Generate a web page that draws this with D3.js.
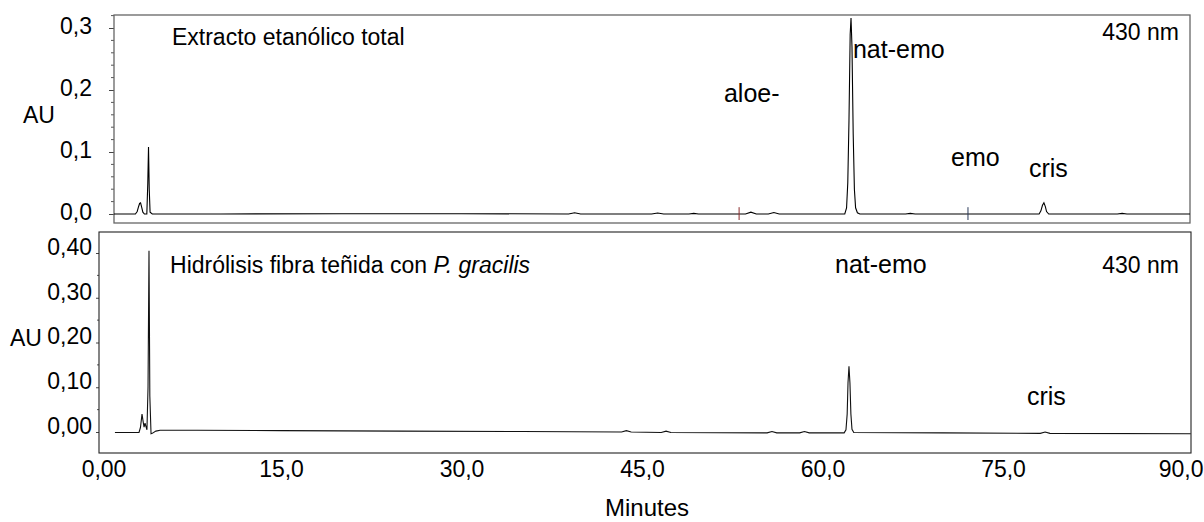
<!DOCTYPE html>
<html><head><meta charset="utf-8">
<script src="https://cdn.jsdelivr.net/npm/d3@7"></script>
<style>
body{margin:0;background:#fff}
text{font-family:"Liberation Sans",Arial,sans-serif;fill:#000}
</style></head>
<body><svg id="c" width="1204" height="522"></svg>
<script>
// ---------- data ----------
const xTickValues = [0, 15, 30, 45, 60, 75, 90];
const xTickLabels = ["0,00", "15,0", "30,0", "45,0", "60,0", "75,0", "90,0"];
const topYTicks = [0, 0.1, 0.2, 0.3];
const topYLabels = ["0,0", "0,1", "0,2", "0,3"];
const botYTicks = [0, 0.1, 0.2, 0.3, 0.4];
const botYLabels = ["0,00", "0,10", "0,20", "0,30", "0,40"];

const topTime = [1.12, 2.9, 3.05, 3.15, 3.25, 3.33, 3.42, 3.52, 3.65, 3.85, 3.93, 3.99, 4.05, 4.12, 4.3, 10, 20, 30, 38.9, 39.4, 39.9, 45.8, 46.3, 46.8, 48.9, 49.3, 49.7, 53.6, 54.05, 54.5, 55.5, 55.96, 56.4, 61.85, 62.0, 62.1, 62.2, 62.3, 62.37, 62.45, 62.55, 62.65, 62.75, 62.9, 63.1, 66.9, 67.3, 67.7, 78.0, 78.15, 78.28, 78.4, 78.52, 78.62, 78.8, 84.5, 84.9, 85.3, 90.55];
const topAU = [0, 0, 0.004, 0.011, 0.017, 0.018, 0.011, 0.003, 0, 0, 0.05, 0.108, 0.04, 0.003, 0, 0, 0.0005, 0.0005, 0, 0.002, 0, 0, 0.0015, 0, 0, 0.001, 0, 0, 0.003, 0, 0, 0.0025, 0, 0, 0.01, 0.05, 0.15, 0.29, 0.316, 0.27, 0.13, 0.04, 0.01, 0.002, 0, 0, 0.001, 0, 0, 0.005, 0.014, 0.018, 0.012, 0.004, 0, 0, 0.001, 0, 0];
const topMarkerTimes = [53.07, 72.09];
const topMarkerColors = ["#8a2a2a", "#2a3a5a"];

const botTime = [1.2, 3.2, 3.32, 3.45, 3.55, 3.62, 3.7, 3.78, 3.86, 3.95, 4.03, 4.1, 4.2, 4.3, 4.6, 4.95, 8, 15, 25, 35, 43.3, 43.7, 44.1, 46.6, 47.0, 47.4, 55.4, 55.8, 56.2, 58.1, 58.5, 58.9, 61.8, 61.95, 62.05, 62.12, 62.2, 62.28, 62.36, 62.45, 62.6, 70, 78.1, 78.5, 78.9, 90.6];
const botAU = [-0.001, -0.001, 0.01, 0.04, 0.022, 0.011, 0.02, 0.012, 0.005, 0.1, 0.405, 0.08, -0.004, -0.003, 0.002, 0.004, 0.004, 0.003, 0.002, 0.001, 0.0, 0.003, 0.0, -0.001, 0.002, -0.001, -0.002, 0.001, -0.002, -0.002, 0.001, -0.002, -0.002, 0.005, 0.04, 0.11, 0.147, 0.11, 0.04, 0.006, -0.001, -0.002, -0.003, 0.0, -0.003, -0.004];

// annotations: [text, time, AU]
const topNotes = [["nat-emo", 62.53, 0.2516], ["aloe-", 51.81, 0.1806], ["emo", 70.68, 0.0774], ["cris", 77.16, 0.0597]];
const botNotes = [["nat-emo", 61.04, 0.3553], ["cris", 76.99, 0.0603]];
const topTitle = ["Extracto etanólico total", 5.94, 0.2726];
const wavelength = "430 nm";

// ---------- layout ----------
const FS = 23, FSN = 25;
const svg = d3.select("#c");
const x = d3.scaleLinear().domain([0, 90]).range([100.5, 1183.5]);
const yTop = d3.scaleLinear().domain([0, 0.3]).range([214, 28]);
const yBot = d3.scaleLinear().domain([0, 0.4]).range([432, 253]);
const topBox = {x0: 114, x1: 1190, y0: 15, y1: 223};
const botBox = {x0: 99, x1: 1191, y0: 232, y1: 453};

const defs = svg.append("defs");
[["clipTop", topBox], ["clipBot", botBox]].forEach(([id, b]) => {
  defs.append("clipPath").attr("id", id).append("rect")
    .attr("x", b.x0).attr("y", b.y0).attr("width", b.x1 - b.x0).attr("height", b.y1 - b.y0);
});

// ---------- top panel ----------
const gTopAxis = svg.append("g").attr("transform", `translate(${topBox.x0},0)`)
  .call(d3.axisLeft(yTop).tickValues(topYTicks).tickFormat((d, i) => topYLabels[i]).tickSize(5).tickPadding(17));
gTopAxis.select(".domain").remove();
gTopAxis.selectAll(".tick line").attr("stroke", "#444");
gTopAxis.selectAll("text").attr("font-size", FS).attr("font-family", null).attr("dy", "0.32em").attr("y", -2);
svg.append("g").selectAll("line").data(d3.range(0.02, 0.321, 0.02).filter(v => Math.abs(v * 10 - Math.round(v * 10)) > 1e-6))
  .join("line").attr("x1", topBox.x0 - 3).attr("x2", topBox.x0).attr("y1", d => yTop(d)).attr("y2", d => yTop(d)).attr("stroke", "#555");

svg.append("rect").attr("x", topBox.x0).attr("y", topBox.y0).attr("width", topBox.x1 - topBox.x0).attr("height", topBox.y1 - topBox.y0)
  .attr("fill", "none").attr("stroke", "#666").attr("stroke-width", 1.3);

const lineTop = d3.line().x(d => x(d[0])).y(d => yTop(d[1]));
svg.append("path").attr("clip-path", "url(#clipTop)").datum(topTime.map((t, i) => [t, topAU[i]]))
  .attr("d", lineTop).attr("fill", "none").attr("stroke", "#000").attr("stroke-width", 1.1);

svg.append("g").selectAll("line").data(topMarkerTimes).join("line")
  .attr("x1", d => x(d)).attr("x2", d => x(d)).attr("y1", yTop(0.011)).attr("y2", yTop(-0.0097))
  .attr("stroke", (d, i) => topMarkerColors[i]).attr("stroke-width", 1);

svg.append("text").attr("x", x(topTitle[1])).attr("y", yTop(topTitle[2])).attr("font-size", FS).text(topTitle[0]);
svg.append("g").selectAll("text").data(topNotes).join("text")
  .attr("x", d => x(d[1])).attr("y", d => yTop(d[2])).attr("font-size", FSN).text(d => d[0]);
svg.append("text").attr("x", 1179).attr("y", 40).attr("text-anchor", "end").attr("font-size", FS).text(wavelength);
svg.append("text").attr("x", 23).attr("y", 123).attr("font-size", FS).text("AU");

// ---------- bottom panel ----------
const gBotAxis = svg.append("g").attr("transform", `translate(${botBox.x0},0)`)
  .call(d3.axisLeft(yBot).tickValues(botYTicks).tickFormat((d, i) => botYLabels[i]).tickSize(3).tickPadding(4));
gBotAxis.select(".domain").remove();
gBotAxis.selectAll(".tick line").attr("stroke", "#444");
gBotAxis.selectAll("text").attr("font-size", FS).attr("font-family", null).attr("dy", "0.32em").attr("y", -6);
svg.append("g").selectAll("line").data([0.05, 0.15, 0.25, 0.35])
  .join("line").attr("x1", botBox.x0 - 2).attr("x2", botBox.x0).attr("y1", d => yBot(d)).attr("y2", d => yBot(d)).attr("stroke", "#555");

svg.append("rect").attr("x", botBox.x0).attr("y", botBox.y0).attr("width", botBox.x1 - botBox.x0).attr("height", botBox.y1 - botBox.y0)
  .attr("fill", "none").attr("stroke", "#222").attr("stroke-width", 1.1);

const lineBot = d3.line().x(d => x(d[0])).y(d => yBot(d[1]));
svg.append("path").attr("clip-path", "url(#clipBot)").datum(botTime.map((t, i) => [t, botAU[i]]))
  .attr("d", lineBot).attr("fill", "none").attr("stroke", "#111").attr("stroke-width", 1.1);

const tBot = svg.append("text").attr("x", x(5.78)).attr("y", yBot(0.3553)).attr("font-size", FS);
tBot.append("tspan").text("Hidrólisis fibra teñida con ");
tBot.append("tspan").attr("font-style", "italic").text("P. gracilis");
svg.append("g").selectAll("text").data(botNotes).join("text")
  .attr("x", d => x(d[1])).attr("y", d => yBot(d[2])).attr("font-size", FSN).text(d => d[0]);
svg.append("text").attr("x", 1179).attr("y", 273).attr("text-anchor", "end").attr("font-size", FS).text(wavelength);
svg.append("text").attr("x", 10).attr("y", 346).attr("font-size", FS).text("AU");

// ---------- x axis ----------
const gX = svg.append("g").attr("transform", `translate(0,${botBox.y1})`)
  .call(d3.axisBottom(x).tickValues(xTickValues).tickFormat((d, i) => xTickLabels[i]).tickSize(0).tickPadding(8));
gX.select(".domain").remove();
gX.selectAll("text").attr("font-size", FS).attr("font-family", null);
gX.selectAll(".tick").filter(d => d === 0).select("text").attr("dx", 3);
gX.selectAll(".tick").filter(d => d === 90).select("text").attr("text-anchor", "end").attr("dx", 1203 - x(90));
svg.append("text").attr("x", 647).attr("y", 516).attr("text-anchor", "middle").attr("font-size", 24).text("Minutes");
</script></body></html>
